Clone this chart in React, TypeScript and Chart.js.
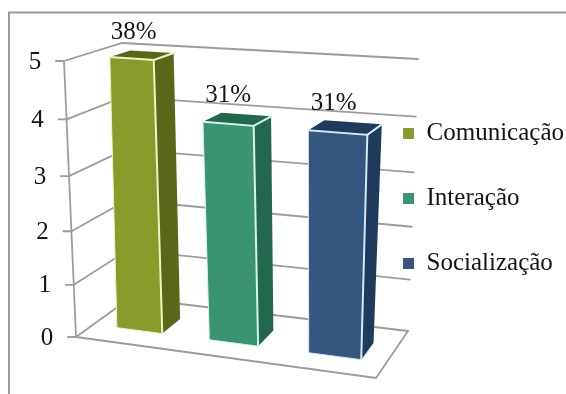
import React, { useEffect, useRef } from "react";
import { Chart, registerables, BarController } from "chart.js";

Chart.register(...registerables);

// Survey results: bar heights and the percentage printed above each bar.
const categories = ["Comunicação", "Interação", "Socialização"];
const values = [5, 4, 4];
const percentLabels = ["38%", "31%", "31%"];
const yTicks = [0, 1, 2, 3, 4, 5];

const frontColors = ["#8A9B2B", "#3A9472", "#33577F"];
const darkColors = ["#5A6718", "#24674F", "#1E3A5C"];
const edgeColors = ["#EEF3C4", "#D4F5E6", "#D5E8F6"];

const FONT = '"Liberation Serif", serif';
const GRID = "#9C9C9C";
const INK = "#141414";

type P = [number, number];

// Corners of the perspective room: front-left, front-right, back-right, back-left.
const floorQuad: P[] = [[76, 337], [376, 378], [408, 331], [130, 298]];
const ceilingQuad: P[] = [[64, 61], [378, 84], [418, 59], [122, 43]];
const BAR_FRONT = 0.3;
const BAR_BACK = 0.66;
const BAR_SHIFT = 0.006;
const BAR_LEAN = 0.021;
const FORESHORTEN = 1.073;

// Projective map from the unit square (u along the front, v into the depth) onto a quad.
function quadMap(q: P[]) {
  const [[x0, y0], [x1, y1], [x2, y2], [x3, y3]] = q;
  const dx1 = x1 - x2, dx2 = x3 - x2, sx = x0 - x1 + x2 - x3;
  const dy1 = y1 - y2, dy2 = y3 - y2, sy = y0 - y1 + y2 - y3;
  const det = dx1 * dy2 - dx2 * dy1;
  const g = (sx * dy2 - dx2 * sy) / det;
  const h = (dx1 * sy - sx * dy1) / det;
  const a = x1 - x0 + g * x1, b = x3 - x0 + h * x3;
  const d = y1 - y0 + g * y1, e = y3 - y0 + h * y3;
  return (u: number, v: number): P => {
    const w = g * u + h * v + 1;
    return [(a * u + b * v + x0) / w, (d * u + e * v + y0) / w];
  };
}

const floorMap = quadMap(floorQuad);
const ceilingMap = quadMap(ceilingQuad);

// u: 0..1 across, v: 0..1 into the depth, t: 0..1 up the value axis.
function project(u: number, v: number, t: number): P {
  const f = t / (t + (1 - t) * FORESHORTEN);
  const a = floorMap(u, v);
  const b = ceilingMap(u, v);
  return [a[0] + (b[0] - a[0]) * f, a[1] + (b[1] - a[1]) * f];
}

// Same mapping for a bar: boxes sit slightly right of centre and lean with height.
function projectBar(u: number, v: number, t: number): P {
  return project(u + BAR_SHIFT + BAR_LEAN * t, v, t);
}

function poly(ctx: CanvasRenderingContext2D, pts: P[], fill?: string) {
  ctx.beginPath();
  pts.forEach((p, i) => (i ? ctx.lineTo(p[0], p[1]) : ctx.moveTo(p[0], p[1])));
  if (fill) {
    ctx.closePath();
    ctx.fillStyle = fill;
    ctx.fill();
  }
}

function stroke(ctx: CanvasRenderingContext2D, pts: P[], color: string, width: number) {
  poly(ctx, pts);
  ctx.strokeStyle = color;
  ctx.lineWidth = width;
  ctx.stroke();
}

// Bar controller that paints each bar as a box standing in the perspective room.
class Bar3DController extends BarController {
  static id = "bar3d";
  static defaults = BarController.defaults;
  static overrides = BarController.overrides;

  draw() {
    const chart = this.chart;
    const ctx = chart.ctx;
    const area = chart.chartArea;
    this.getMeta().data.forEach((el: any, i: number) => {
      const uL = (el.x - el.width / 2 - area.left) / area.width;
      const uR = (el.x + el.width / 2 - area.left) / area.width;
      const t = (area.bottom - el.y) / area.height;
      const fbl = projectBar(uL, BAR_FRONT, 0);
      const fbr = projectBar(uR, BAR_FRONT, 0);
      const ftl = projectBar(uL, BAR_FRONT, t);
      const ftr = projectBar(uR, BAR_FRONT, t);
      const bbr = projectBar(uR, BAR_BACK, 0);
      const btr = projectBar(uR, BAR_BACK, t);
      const btl = projectBar(uL, BAR_BACK, t);
      poly(ctx, [fbr, bbr, btr, ftr], darkColors[i]);
      poly(ctx, [ftl, ftr, btr, btl], darkColors[i]);
      poly(ctx, [fbl, fbr, ftr, ftl], frontColors[i]);
      stroke(ctx, [fbl, ftl], edgeColors[i], 1);
      stroke(ctx, [fbl, fbr], edgeColors[i], 1);
      stroke(ctx, [ftl, ftr, fbr], edgeColors[i], 2);
      stroke(ctx, [ftr, btr], edgeColors[i], 2);
    });
  }
}
Chart.register(Bar3DController);

// Outer picture frame, room lines and the slanted value axis.
const roomPlugin = {
  id: "room",
  beforeDatasetsDraw(chart: any) {
    const ctx: CanvasRenderingContext2D = chart.ctx;
    const yScale = chart.scales.y;
    const area = chart.chartArea;
    stroke(ctx, [[9, 394], [9, 12.5], [566, 12.5]], "#9A9A9A", 2);
    ctx.lineCap = "round";
    yScale.ticks.forEach((tick: any) => {
      const t = (area.bottom - yScale.getPixelForValue(tick.value)) / area.height;
      const front = project(0, 0, t);
      stroke(ctx, [front, project(0, 1, t), project(1, 1, t)], GRID, 1.8);
      stroke(ctx, [[front[0] - 8, front[1]], front], GRID, 1.8);
      ctx.fillStyle = INK;
      ctx.font = `25px ${FONT}`;
      ctx.textAlign = "center";
      ctx.textBaseline = "middle";
      ctx.fillText(String(tick.value), front[0] - 29, front[1] + 1);
    });
    stroke(ctx, [project(0, 0, 0), project(0, 0, 1)], GRID, 1.8);
    stroke(ctx, [project(0, 0, 0), project(1, 0, 0), project(1, 1, 0)], GRID, 1.8);
  },
  afterDatasetsDraw(chart: any) {
    const ctx: CanvasRenderingContext2D = chart.ctx;
    const area = chart.chartArea;
    chart.getDatasetMeta(0).data.forEach((el: any, i: number) => {
      const u = (el.x - area.left) / area.width;
      const t = (area.bottom - el.y) / area.height;
      const p = project(u, BAR_BACK, t);
      ctx.fillStyle = INK;
      ctx.font = `25px ${FONT}`;
      ctx.textAlign = "center";
      ctx.textBaseline = "middle";
      ctx.fillText(percentLabels[i], p[0] - 11, p[1] - 18.5);
    });
  },
};

export default function App() {
  const ref = useRef<HTMLCanvasElement>(null);
  useEffect(() => {
    document.body.style.margin = "0";
    const chart = new Chart(ref.current!, {
      type: "bar3d" as any,
      data: {
        labels: categories,
        datasets: [{ data: values, backgroundColor: frontColors, categoryPercentage: 1, barPercentage: 0.5, clip: false }],
      },
      options: {
        animation: false,
        responsive: false,
        layout: { padding: { top: 3, right: -8 } },
        scales: {
          x: { type: "category", display: false, offset: true },
          y: { type: "linear", display: false, min: 0, max: 5, ticks: { stepSize: 1 }, afterBuildTicks: (s: any) => { s.ticks = yTicks.map((value) => ({ value })); } },
        },
        plugins: {
          title: { display: false },
          tooltip: { enabled: false },
          legend: {
            display: true,
            position: "right",
            labels: {
              boxWidth: 11,
              boxHeight: 11,
              padding: 40,
              color: INK,
              font: { family: FONT, size: 25 },
              generateLabels: () =>
                categories.map((text, i) => ({
                  text,
                  fillStyle: frontColors[i],
                  strokeStyle: frontColors[i],
                  lineWidth: 0,
                  fontColor: INK,
                  index: i,
                  datasetIndex: 0,
                })),
            },
          },
        },
      } as any,
      plugins: [roomPlugin],
    });
    return () => chart.destroy();
  }, []);
  return (
    <div style={{ position: "absolute", left: 0, top: 0, width: 566, height: 394, background: "#fff" }}>
      <canvas ref={ref} width={566} height={394} style={{ display: "block" }} />
    </div>
  );
}
